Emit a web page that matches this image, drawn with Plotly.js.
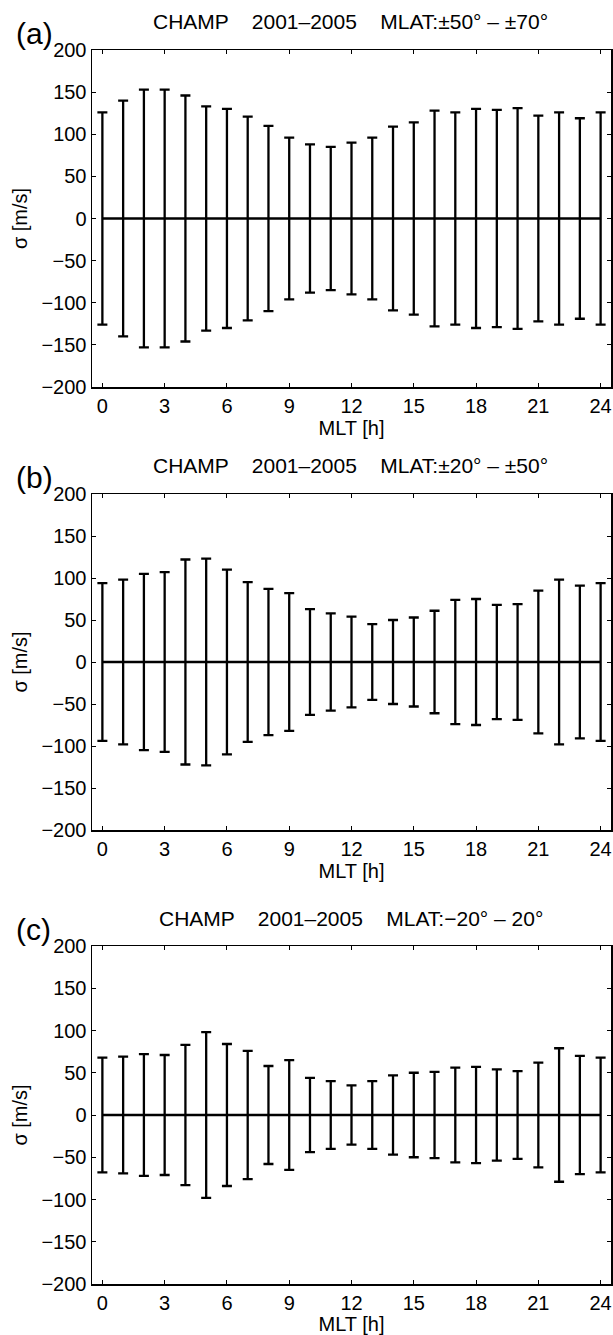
<!DOCTYPE html>
<html>
<head>
<meta charset="utf-8">
<script src="https://cdn.plot.ly/plotly-3.0.1.min.js"></script>
<style>html,body{margin:0;padding:0;background:#fff;}#chart{width:613px;height:1335px;}</style>
</head>
<body>
<div id="chart"></div>
<script>
// MLT hours
const mlt = [0,1,2,3,4,5,6,7,8,9,10,11,12,13,14,15,16,17,18,19,20,21,22,23,24];
// sigma [m/s] for each latitude band
const sigmaA = [126,140,153,153,146,133,130,121,110,96,88,85,90,96,109,114,128,126,130,129,131,122,126,119,126];
const sigmaB = [94,98,105,107,122,123,110,95,87,82,63,58,54,45,50,53,61,74,75,68,69,85,98,91,94];
const sigmaC = [68,69,72,71,83,98,84,76,58,65,44,40,35,40,47,50,51,56,57,54,52,62,79,70,68];
// panel labels and titles
const panelLabels = ['(a)','(b)','(c)'];
const panelTitles = [
  'CHAMP    2001–2005    MLAT:±50° – ±70°',
  'CHAMP    2001–2005    MLAT:±20° – ±50°',
  'CHAMP    2001–2005    MLAT:−20° – 20°'
];
const xTitle = 'MLT [h]';
const yTitle = 'σ [m/s]';
const xTicks = [0,3,6,9,12,15,18,21,24];
const yTicks = [-200,-150,-100,-50,0,50,100,150,200];

const W = 613, H = 1335;
const FONT = 'Liberation Sans, Arial, sans-serif';
const series = [sigmaA, sigmaB, sigmaC];
// pixel boxes [top, bottom]
const boxes = [[50,387],[494,830],[946,1284]];
const xl = 92, xr = 611;

const traces = [];
const layout = {
  width: W, height: H,
  margin: {l:0, r:0, t:0, b:0},
  paper_bgcolor: '#fff', plot_bgcolor: '#fff',
  showlegend: false,
  font: {family: FONT, size: 20, color: '#000'},
  annotations: []
};

series.forEach((s, i) => {
  const n = i === 0 ? '' : String(i+1);
  traces.push({
    type: 'scatter', mode: 'lines',
    x: mlt, y: mlt.map(() => 0),
    xaxis: 'x' + n, yaxis: 'y' + n,
    line: {color: '#000', width: 2.5},
    error_y: {type: 'data', array: s, symmetric: true, color: '#000', thickness: 2.3, width: 5},
    hoverinfo: 'skip'
  });
  const top = 1 - boxes[i][0]/H, bot = 1 - boxes[i][1]/H;
  layout['xaxis' + n] = {
    domain: [xl/W, xr/W], anchor: 'y' + n,
    range: [-0.5, 24.5], tickvals: xTicks, ticktext: xTicks.map(String),
    ticks: 'inside', ticklen: 4, tickwidth: 1, tickcolor: '#000',
    showline: true, linecolor: '#000', linewidth: 1.5, mirror: 'ticks',
    showgrid: false, zeroline: false,
    tickfont: {family: FONT, size: 20, color: '#000'},
    title: {text: xTitle, font: {family: FONT, size: 20, color: '#000'}, standoff: i === 2 ? 1 : 2}
  };
  layout['yaxis' + n] = {
    domain: [bot, top], anchor: 'x' + n,
    range: [-200, 200], tickvals: yTicks,
    ticks: 'inside', ticklen: 4, tickwidth: 1, tickcolor: '#000',
    showline: true, linecolor: '#000', linewidth: 1.5, mirror: 'ticks',
    showgrid: false, zeroline: false,
    tickfont: {family: FONT, size: 20, color: '#000'},
    title: {text: yTitle, font: {family: FONT, size: 20, color: '#000'}, standoff: 8}
  };
  layout.annotations.push({
    xref: 'paper', yref: 'paper', x: 350.5/W, y: 1 - (boxes[i][0]-28)/H,
    text: panelTitles[i], showarrow: false, xanchor: 'center', yanchor: 'middle',
    font: {family: FONT, size: 21, color: '#000'}
  });
  layout.annotations.push({
    xref: 'paper', yref: 'paper', x: 14/W, y: 1 - (boxes[i][0]-17)/H,
    text: panelLabels[i], showarrow: false, xanchor: 'left', yanchor: 'middle',
    font: {family: FONT, size: 30, color: '#000'}
  });
});

Plotly.newPlot('chart', traces, layout, {staticPlot: true, displayModeBar: false});
</script>
</body>
</html>
